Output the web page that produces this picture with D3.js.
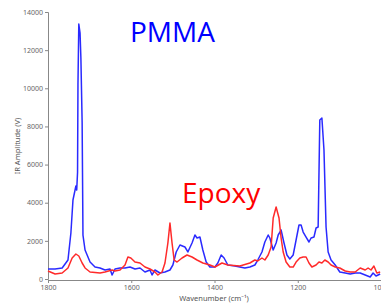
<!DOCTYPE html>
<html><head><meta charset="utf-8">
<script src="https://cdn.jsdelivr.net/npm/d3@7"></script>
<style>body{margin:0;background:#fff;}svg{display:block;font-family:"Noto Sans",sans-serif;}</style>
</head><body>
<svg id="c" width="381" height="305"></svg>
<script>
const xTicks = [1800, 1600, 1400, 1200, 1000];
const yTicks = [0, 2000, 4000, 6000, 8000, 10000, 12000, 14000];
const pmmaWn = [1800,1783,1766,1752,1745,1740,1733,1731,1729,1728,1726,1723,1721,1718,1716,1711,1699,1687,1675,1663,1651,1646,1639,1627,1615,1603,1591,1579,1567,1555,1550,1543,1531,1519,1507,1500,1492,1483,1471,1464,1454,1447,1442,1435,1428,1420,1411,1399,1392,1384,1377,1368,1351,1339,1327,1315,1303,1296,1286,1279,1271,1267,1259,1252,1247,1240,1233,1226,1219,1211,1204,1197,1192,1187,1180,1173,1168,1161,1156,1151,1147,1142,1137,1132,1127,1120,1110,1099,1086,1074,1062,1050,1038,1026,1019,1012,1002];
const pmmaVal = [524,524,577,996,2412,4142,4876,4666,5600,10200,13370,12900,11600,8200,2300,1520,891,629,577,472,524,210,524,577,577,629,524,577,367,472,210,472,315,367,472,734,1416,1783,1678,1416,1888,2307,2150,2202,1520,891,629,629,839,1258,1101,734,682,629,577,629,734,996,1416,1940,2307,2150,1520,1888,2307,2569,1888,1258,1049,1258,2045,2831,2831,2464,2202,1940,2150,2202,2674,2726,8336,8441,6763,2726,1416,996,734,367,315,262,315,315,210,105,315,157,262];
const epoxyWn = [1800,1783,1766,1752,1742,1733,1726,1718,1711,1699,1675,1663,1646,1639,1627,1615,1608,1601,1591,1579,1567,1555,1543,1536,1526,1519,1512,1507,1502,1497,1490,1478,1466,1454,1442,1428,1411,1399,1382,1368,1339,1315,1303,1296,1286,1279,1271,1264,1259,1252,1245,1240,1235,1228,1219,1211,1204,1195,1187,1180,1173,1166,1156,1149,1142,1135,1127,1120,1110,1099,1086,1074,1062,1050,1038,1031,1024,1017,1010,1002];
const epoxyVal = [419,262,315,577,1101,1311,1206,839,577,367,315,367,472,419,472,734,1153,1101,891,839,629,524,367,210,367,839,1888,2936,1888,996,891,1101,1258,1153,996,839,734,629,839,734,682,839,996,944,1101,996,1258,1678,3198,3775,3198,2150,1416,891,629,629,891,1101,1153,1153,839,629,734,891,839,996,891,734,629,577,419,367,367,577,472,577,472,682,315,367];
const labels = {pmma: "PMMA", epoxy: "Epoxy", xTitle: "Wavenumber (cm\u207B\u00B9)", yTitle: "IR Amplitude (V)"};

const svg = d3.select("#c");
const x = d3.scaleLinear().domain([1800, 1000]).range([48, 381]);
const y = d3.scaleLinear().domain([0, 14000]).range([279, 12]);

const gx = svg.append("g").attr("transform", "translate(0,280)")
  .call(d3.axisBottom(x).tickValues(xTicks).tickSize(3).tickPadding(2).tickFormat(d3.format("d")));
const gy = svg.append("g").attr("transform", "translate(48,0)")
  .call(d3.axisLeft(y).tickValues(yTicks).tickSize(3).tickPadding(2).tickFormat(d3.format("d")));
[gx, gy].forEach(g => {
  g.select(".domain").attr("stroke", "#888");
  g.selectAll(".tick line").attr("stroke", "#888");
  g.selectAll(".tick text").attr("fill", "#666").style("font-size", "7px").style("font-family", "Noto Sans");
});

svg.append("text").attr("x", 214).attr("y", 301).attr("text-anchor", "middle")
  .attr("fill", "#555").style("font-size", "7.5px").text(labels.xTitle);
svg.append("text").attr("transform", "translate(20,146) rotate(-90)").attr("text-anchor", "middle")
  .attr("fill", "#555").style("font-size", "7.5px").text(labels.yTitle);

const line = d3.line().x(d => x(d[0])).y(d => y(d[1]));
svg.append("path").datum(d3.zip(pmmaWn, pmmaVal)).attr("d", line)
  .attr("fill", "none").attr("stroke", "#2a2aff").attr("stroke-width", 1.5).attr("stroke-linejoin", "round");
svg.append("path").datum(d3.zip(epoxyWn, epoxyVal)).attr("d", line)
  .attr("fill", "none").attr("stroke", "#ff2a2a").attr("stroke-width", 1.5).attr("stroke-linejoin", "round");

svg.append("text").attr("x", 130).attr("y", 42).attr("fill", "#0000ff")
  .style("font-size", "28px").style("font-family", "Open Sans").text(labels.pmma);
svg.append("text").attr("x", 182).attr("y", 203).attr("fill", "#ff0000")
  .style("font-size", "28px").style("font-family", "Open Sans").text(labels.epoxy);
</script>
</body></html>
